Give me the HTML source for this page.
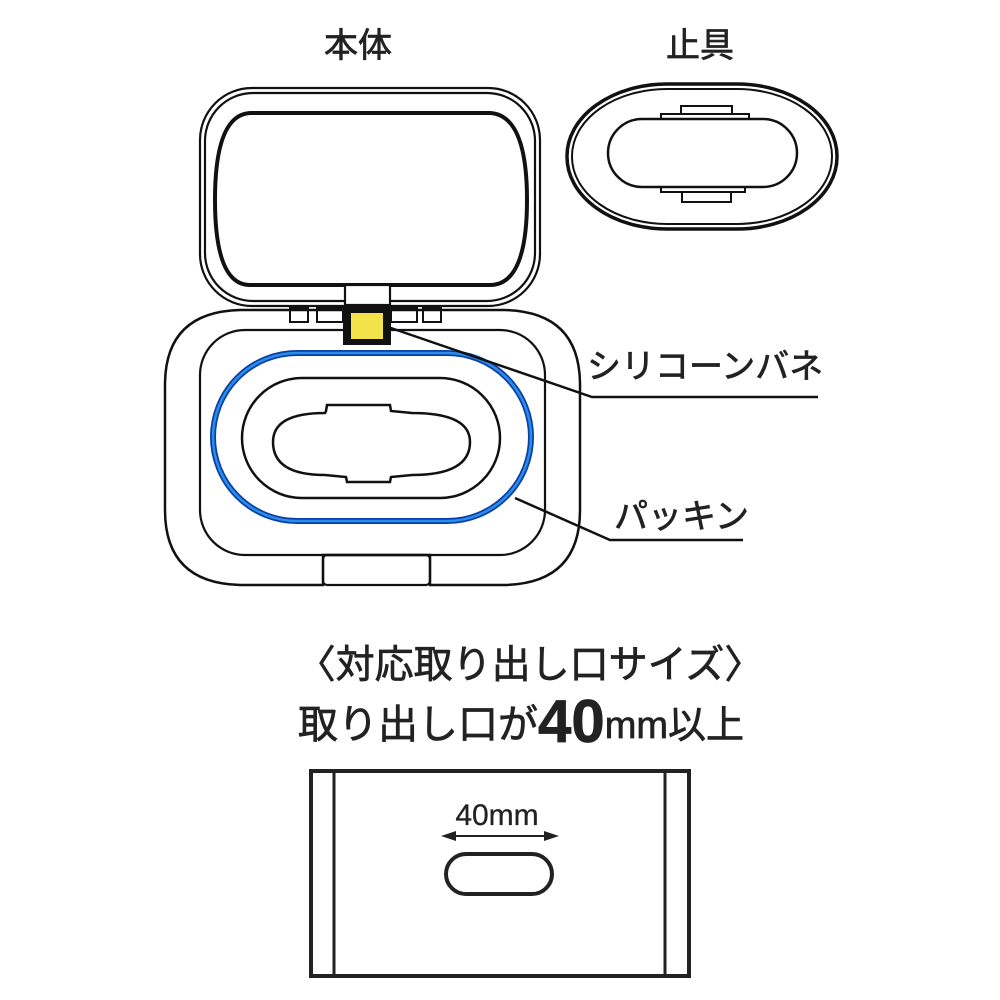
<!DOCTYPE html>
<html><head><meta charset="utf-8"><style>
html,body{margin:0;padding:0;background:#fff;}
svg{display:block;}
text{font-family:"Liberation Sans","Noto Sans CJK JP",sans-serif;fill:#222;stroke:#222;stroke-width:0.7;}
</style></head><body>
<svg width="1000" height="1000" viewBox="0 0 1000 1000" xmlns="http://www.w3.org/2000/svg">
<text x="358" y="57" font-size="34" text-anchor="middle">本体</text>
<text x="700" y="57" font-size="34" text-anchor="middle">止具</text>

<g fill="none" stroke="#111">
<!-- base -->
<path d="M165,385 Q165,312 240,310 L505,310 Q580,312 580,385 L580,510 Q580,583 505,585 L430,585 L430,555 L323,555 L323,585 L240,585 Q165,583 165,510 Z" stroke-width="2.5" fill="#fff"/>
<rect x="200" y="330" width="345" height="225" rx="45" stroke-width="2.2"/>
<rect x="323" y="555" width="107" height="30" rx="4" stroke-width="2.2"/>
<!-- lid -->
<rect x="200" y="88" width="340" height="218" rx="52" stroke-width="2.2" fill="#fff"/>
<rect x="205" y="93" width="330" height="208" rx="48" stroke-width="2.2"/>
<path d="M250,113 L490,113 Q527,115 527,200 Q527,285 490,285 L250,285 Q215,285 215,200 Q215,115 250,113 Z" stroke-width="4"/>
<!-- hinge -->
<rect x="345" y="285" width="45" height="20" stroke-width="2.2" fill="#fff"/>
<rect x="343" y="305" width="48" height="40" fill="#111" stroke="none"/>
<rect x="351" y="313" width="32" height="26" fill="#f4e24a" stroke="none"/>
<rect x="290" y="308" width="18" height="14" stroke-width="2"/>
<rect x="317" y="308" width="26" height="14" stroke-width="2"/>
<rect x="391" y="308" width="26" height="14" stroke-width="2"/>
<rect x="423" y="308" width="18" height="14" stroke-width="2"/>
<!-- blue ring -->
<rect x="213" y="353" width="318" height="168" rx="84" stroke="#0a3fa8" stroke-width="6"/>
<rect x="213" y="353" width="318" height="168" rx="84" stroke="#2a8ee8" stroke-width="2.5"/>
<rect x="242" y="378" width="258" height="120" rx="60" stroke-width="2.5"/>
<path d="M326,411 L327,405 L390,405 L391,411 L412,413 Q470,413 470,442 Q470,475 412,475 L391,477 L390,482 L347,482 L346,477 L325,475 Q273,475 273,442 Q273,413 325,413 Z" stroke-width="2.5"/>
<!-- leaders -->
<polyline points="388,327 592,397 818,397" stroke-width="2.5"/>
<polyline points="515,498 610,540 743,540" stroke-width="2.5"/>
<!-- stopper -->
<rect x="567" y="84" width="270" height="145" rx="100" ry="72" stroke-width="3.5"/>
<rect x="572" y="89" width="260" height="135" rx="95" ry="67" stroke-width="2"/>
<rect x="608" y="119" width="189" height="68" rx="34" stroke-width="2.5" fill="#fff"/>
<path d="M661,119 L661,114 L749,114 L749,119 M681,114 L681,106 L732,106 L732,114" stroke-width="2"/>
<path d="M661,187 L661,192 L745,192 L745,187 M682,192 L682,202 L731,202 L731,192" stroke-width="2"/>
</g>
<text x="587" y="378" font-size="34">シリコーンバネ</text>
<text x="614" y="528" font-size="34">パッキン</text>

<text x="530" y="678" font-size="39" text-anchor="middle">〈対応取り出し口サイズ〉</text>
<text x="298" y="738" font-size="40">取り出し口が<tspan font-size="60" font-weight="bold" dy="4">40</tspan><tspan font-size="38" dy="-4">mm以上</tspan></text>

<g fill="none" stroke="#222">
<rect x="311" y="771" width="378" height="205" stroke-width="4"/>
<line x1="334" y1="771" x2="334" y2="976" stroke-width="3"/>
<line x1="665" y1="771" x2="665" y2="976" stroke-width="3"/>
<rect x="446" y="854" width="106" height="40" rx="20" stroke-width="4"/>
<line x1="448" y1="836" x2="552" y2="836" stroke-width="2"/>
</g>
<polygon points="441,836 456,831 456,841" fill="#222"/>
<polygon points="559,836 544,831 544,841" fill="#222"/>
<text x="497" y="825" font-size="30" text-anchor="middle" style="stroke-width:0.3">40mm</text>
</svg>
</body></html>
